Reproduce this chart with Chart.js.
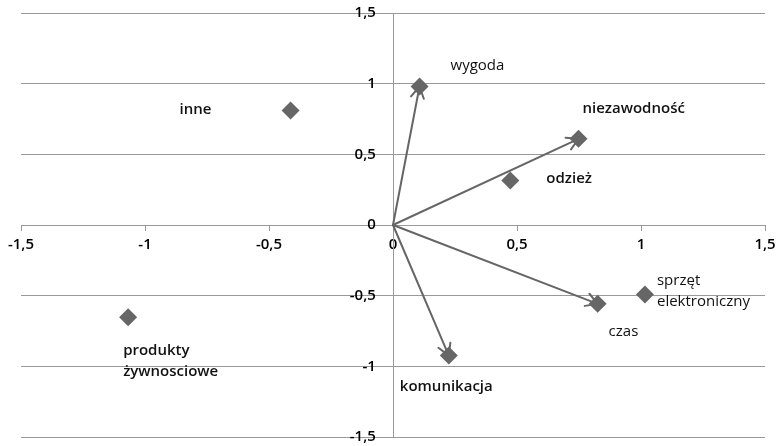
<!DOCTYPE html>
<html><head><meta charset="utf-8">
<script src="https://cdn.jsdelivr.net/npm/chart.js@4/dist/chart.umd.min.js"></script>
<style>html,body{margin:0;padding:0;background:#fff}#wrap{width:778px;height:446px}</style>
</head><body><div id="wrap"><canvas id="c" width="778" height="446"></canvas></div>
<script>
const names = ['inne','wygoda','niezawodność','odzież','czas','sprzęt elektroniczny','komunikacja','produkty żywnosciowe'];
const xValues = [-0.413,0.107,0.748,0.473,0.825,1.016,0.225,-1.068];
const yValues = [0.810,0.980,0.610,0.315,-0.558,-0.492,-0.924,-0.652];
const arrowTargets = ['wygoda','niezawodność','czas','komunikacja'];
const xTickValues = [-1.5,-1,-0.5,0,0.5,1,1.5];
const yTickValues = [-1.5,-1,-0.5,0,0.5,1,1.5];
const labelLines = [['inne'],['wygoda'],['niezawodność'],['odzież'],['czas'],['sprzęt','elektroniczny'],['komunikacja'],['produkty','żywnosciowe']];
const labelOffsets = [[-111,-1],[31,-21],[4,-30],[36,-2],[11,28],[12,-14],[-49,31],[-5,34]];
const labelWeights = ['600','400','600','600','400','400','600','600'];

const FONT = '"Open Sans", sans-serif';
const GRID = '#999999';
const MARK = '#666666';
const fmt = v => String(v).replace('.', ',');

const zeroFit = s => { if (s.isHorizontal()) s.height = 0; else s.width = 0; s.paddingLeft = 0; s.paddingRight = 0; s.paddingTop = 0; s.paddingBottom = 0; };

const arrowPlugin = {
  id: 'arrows',
  beforeDatasetsDraw(chart) {
    const {ctx, scales: {x, y}} = chart;
    const ox = x.getPixelForValue(0), oy = y.getPixelForValue(0);
    ctx.save();
    ctx.strokeStyle = MARK; ctx.lineWidth = 2; ctx.lineCap = 'round'; ctx.lineJoin = 'round';
    arrowTargets.forEach(n => {
      const i = names.indexOf(n);
      const tx = x.getPixelForValue(xValues[i]), ty = y.getPixelForValue(yValues[i]);
      const a = Math.atan2(ty - oy, tx - ox);
      const L = 13, w = Math.PI / 6;
      ctx.beginPath();
      ctx.moveTo(ox, oy); ctx.lineTo(tx, ty);
      ctx.moveTo(tx - L * Math.cos(a - w), ty - L * Math.sin(a - w));
      ctx.lineTo(tx, ty);
      ctx.lineTo(tx - L * Math.cos(a + w), ty - L * Math.sin(a + w));
      ctx.stroke();
    });
    ctx.restore();
  },
  afterDatasetsDraw(chart) {
    const {ctx, scales: {x, y}} = chart;
    ctx.save();
    ctx.fillStyle = '#111';
    ctx.textAlign = 'left'; ctx.textBaseline = 'middle';
    names.forEach((n, i) => {
      const px = x.getPixelForValue(xValues[i]) + labelOffsets[i][0];
      const py = y.getPixelForValue(yValues[i]) + labelOffsets[i][1];
      ctx.font = labelWeights[i] + ' 15px ' + FONT;
      labelLines[i].forEach((t, k) => ctx.fillText(t, px, py + k * 21));
    });
    ctx.restore();
  }
};

new Chart(document.getElementById('c'), {
  type: 'scatter',
  data: {
    datasets: [{
      data: xValues.map((v, i) => ({x: v, y: yValues[i]})),
      pointStyle: 'rectRot', pointRadius: 9, pointHoverRadius: 9,
      backgroundColor: MARK, borderColor: MARK, borderWidth: 0
    }]
  },
  options: {
    responsive: false, animation: false, devicePixelRatio: 1,
    layout: {padding: {left: 21, right: 13, top: 13, bottom: 9}},
    plugins: {legend: {display: false}, tooltip: {enabled: false}},
    scales: {
      x: {
        type: 'linear', min: -1.5, max: 1.5, position: {y: 0},
        afterBuildTicks: s => { s.ticks = xTickValues.map(v => ({value: v})); },
        afterFit: zeroFit,
        grid: {drawOnChartArea: false, drawTicks: true, tickLength: 5, color: GRID},
        border: {color: GRID, width: 1},
        ticks: {color: '#000', padding: 6, maxRotation: 0, autoSkip: false, font: {family: FONT, size: 15, weight: '600'}, callback: v => fmt(v)}
      },
      y: {
        type: 'linear', min: -1.5, max: 1.5, position: {x: 0},
        afterBuildTicks: s => { s.ticks = yTickValues.map(v => ({value: v})); },
        afterFit: zeroFit,
        grid: {drawOnChartArea: true, drawTicks: false, color: GRID},
        border: {color: GRID, width: 1},
        ticks: {color: '#000', autoSkip: false, font: {family: FONT, size: 15, weight: '600'}, callback: v => fmt(v) + '\u2007\u2007'}
      }
    }
  },
  plugins: [arrowPlugin]
});
</script></body></html>
